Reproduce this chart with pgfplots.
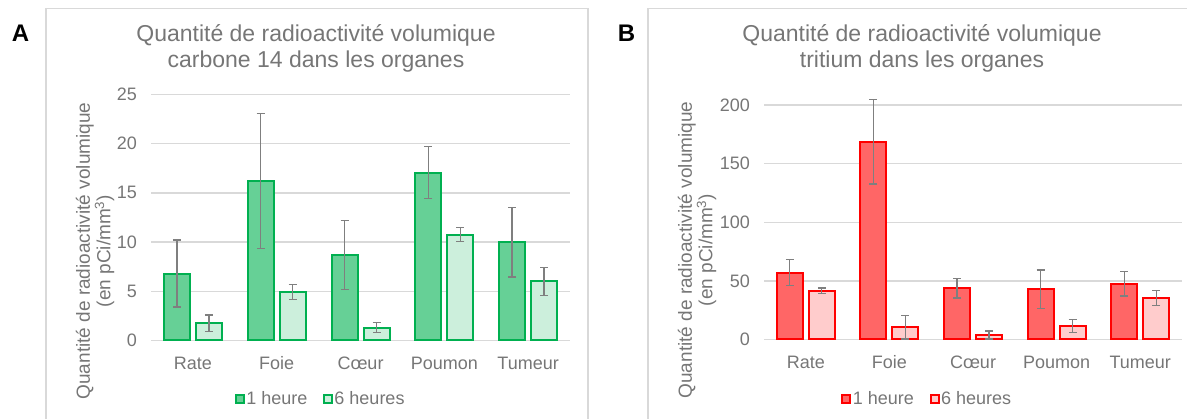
\documentclass[border=0pt]{standalone}
\usepackage{fontspec}
\setmainfont{Liberation Sans}
\usepackage{pgfplots}
\usepackage{pgfplotstable}
\pgfplotsset{compat=1.18}

\definecolor{vert}{HTML}{00B050}
\definecolor{vertA}{HTML}{66D096}
\definecolor{vertB}{HTML}{CCEFDC}
\definecolor{rouge}{HTML}{FF0000}
\definecolor{rougeA}{HTML}{FF6666}
\definecolor{rougeB}{HTML}{FFCCCC}
\definecolor{grille}{HTML}{D9D9D9}
\definecolor{gristexte}{HTML}{767676}
\definecolor{griserr}{HTML}{7F7F7F}

% x, moyenne 1 h, erreur 1 h, moyenne 6 h, erreur 6 h
\pgfplotstableread{
x y1 e1 y6 e6
0 6.8 3.4 1.75 0.85
1 16.2 6.85 4.95 0.75
2 8.7 3.5 1.3 0.5
3 17.05 2.65 10.75 0.7
4 10.0 3.55 6.0 1.4
}\carbone

\pgfplotstableread{
x y1 e1 y6 e6
0 57 11 41.5 2.5
1 168.7 36 10.4 10
2 43.6 8.3 3.8 3.4
3 42.8 16.5 11.5 5.7
4 47.4 10.4 35.2 6.4
}\tritium

\pgfplotsset{organes/.style={
  scale only axis, anchor=south west,
  xmin=-0.5, xmax=4.5, ymin=0, enlargelimits=false,
  xtick={0,...,4}, xticklabels={Rate,Foie,Cœur,Poumon,Tumeur},
  ymajorgrids, grid style={draw=grille, line width=1.3pt},
  axis line style={draw=none}, major tick length=0pt,
  tick label style={font=\fontsize{18}{20}\selectfont, text=gristexte},
  /pgf/number format/assume math mode=true,
  xticklabel style={anchor=base, yshift=-29.5pt, inner sep=0pt},
  yticklabel style={anchor=east, inner sep=0pt, xshift=-14pt},
  clip=false,
  ybar, bar width=26pt,
  error bars/y dir=both, error bars/y explicit,
  error bars/error bar style={draw=griserr, line width=1.3pt},
  error bars/error mark options={rotate=90, mark size=4pt, line width=1.3pt, draw=griserr},
  legend columns=2,
  legend image code/.code={\draw[#1, line width=2pt] (0pt,-4pt) rectangle (8pt,4pt);},
  legend style={anchor=center, draw=none, fill=none,
    font=\fontsize{18}{20}\selectfont, text=gristexte, inner sep=0pt,
    nodes={inner sep=1.5pt},
    /tikz/every even column/.append style={column sep=14pt}},
}}

\begin{document}
\begin{tikzpicture}
\useasboundingbox (0,0) rectangle (1187pt,419pt);

% cadres
\draw[grille, line width=1.3pt] (46pt,410.7pt) rectangle (588pt,-10pt);
\draw[grille, line width=1.3pt] (648pt,410.7pt) rectangle (1206pt,-10pt);

% lettres
\node[anchor=base, font=\bfseries\fontsize{24}{24}\selectfont] at (20.5pt,377pt) {A};
\node[anchor=base, font=\bfseries\fontsize{24}{24}\selectfont] at (626.5pt,377pt) {B};

% titres
\node[anchor=base, font=\fontsize{23}{26}\selectfont, text=gristexte] at (316pt,377pt) {Quantité de radioactivité volumique};
\node[anchor=base, font=\fontsize{23}{26}\selectfont, text=gristexte] at (316pt,351pt) {carbone 14 dans les organes};
\node[anchor=base, font=\fontsize{23}{26}\selectfont, text=gristexte] at (922pt,377pt) {Quantité de radioactivité volumique};
\node[anchor=base, font=\fontsize{23}{26}\selectfont, text=gristexte] at (922pt,351pt) {tritium dans les organes};

% titres des axes y
\node[rotate=90, align=center, font=\fontsize{19}{19.5}\selectfont, text=gristexte] at (95pt,168pt)
  {Quantité de radioactivité volumique\\(en pCi/mm\textsuperscript{3})};
\node[rotate=90, align=center, font=\fontsize{19}{19.5}\selectfont, text=gristexte] at (697pt,169pt)
  {Quantité de radioactivité volumique\\(en pCi/mm\textsuperscript{3})};

% A : carbone 14
\begin{axis}[organes, at={(151pt,78.5pt)}, width=419pt, height=246pt,
  ymax=25, ytick={0,5,...,25},
  legend style={at={(0.4045,-0.2378)}}]
  \addplot[fill=vertA, draw=vert, line width=2pt, bar shift=-16pt]
    table[x=x, y=y1, y error=e1] {\carbone};
  \addlegendentry{1 heure}
  \addplot[fill=vertB, draw=vert, line width=2pt, bar shift=16pt]
    table[x=x, y=y6, y error=e6] {\carbone};
  \addlegendentry{6 heures}
\end{axis}

% B : tritium
\begin{axis}[organes, at={(764pt,79.5pt)}, width=418pt, height=234.5pt,
  ymax=200, ytick={0,50,...,200},
  legend style={at={(0.39,-0.2537)}}]
  \addplot[fill=rougeA, draw=rouge, line width=2pt, bar shift=-16pt]
    table[x=x, y=y1, y error=e1] {\tritium};
  \addlegendentry{1 heure}
  \addplot[fill=rougeB, draw=rouge, line width=2pt, bar shift=16pt]
    table[x=x, y=y6, y error=e6] {\tritium};
  \addlegendentry{6 heures}
\end{axis}
\end{tikzpicture}
\end{document}
